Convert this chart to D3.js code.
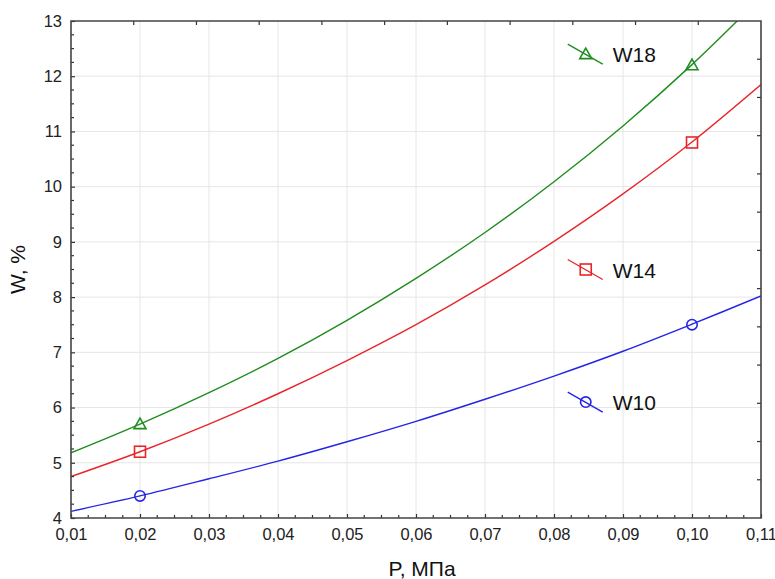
<!DOCTYPE html>
<html lang="ru">
<head>
<meta charset="UTF-8">
<title>W vs P</title>
<script src="https://d3js.org/d3.v7.min.js"></script>
<style>
  body { margin: 0; background: #fff; font-family: 'Liberation Sans', Arial, sans-serif; }
  svg text { font-family: 'Liberation Sans', Arial, sans-serif; }
  .tick text { font-size: 16.5px; fill: #222; }
</style>
</head>
<body>
<svg width="775" height="579"></svg>
<script>
// P, MPa sample positions for the fitted curves
const pValues = [0.01, 0.02, 0.03, 0.04, 0.05, 0.06, 0.07, 0.08, 0.09, 0.10, 0.11];
// curve values
const w10Curve = [4.12, 4.40, 4.71, 5.03, 5.38, 5.75, 6.15, 6.57, 7.02, 7.51, 8.02];
const w14Curve = [4.75, 5.20, 5.70, 6.25, 6.85, 7.50, 8.22, 9.01, 9.87, 10.81, 11.85];
const w18Curve = [5.18, 5.70, 6.27, 6.89, 7.58, 8.34, 9.17, 10.09, 11.10, 12.21, 13.43];
// measured points
const pointP = [0.02, 0.10];
const w10Points = [4.4, 7.5];
const w14Points = [5.2, 10.8];
const w18Points = [5.7, 12.2];
const xTicks = [0.01, 0.02, 0.03, 0.04, 0.05, 0.06, 0.07, 0.08, 0.09, 0.10, 0.11];
const yTicks = [4, 5, 6, 7, 8, 9, 10, 11, 12, 13];
const seriesNames = ["W18", "W14", "W10"];
const legendAt = [[0.0846, 12.4], [0.0846, 8.5], [0.0846, 6.1]];

const svg = d3.select("svg");
const pLeft = 71, pRight = 761, pTop = 21, pBottom = 518;
const x = d3.scaleLinear().domain([0.01, 0.11]).range([pLeft, pRight]);
const y = d3.scaleLinear().domain([4, 13]).range([pBottom, pTop]);

const series = [
  { name: "W18", curve: w18Curve, pts: w18Points, color: "#1f8c1f", marker: "tri" },
  { name: "W14", curve: w14Curve, pts: w14Points, color: "#e8262a", marker: "sq" },
  { name: "W10", curve: w10Curve, pts: w10Points, color: "#2424e6", marker: "circ" }
];

// grid
svg.append("g").selectAll("line").data(xTicks.slice(1, -1)).join("line")
  .attr("x1", d => x(d)).attr("x2", d => x(d)).attr("y1", pTop).attr("y2", pBottom)
  .attr("stroke", "#e6e6e6").attr("stroke-width", 1);
svg.append("g").selectAll("line").data(yTicks.slice(1, -1)).join("line")
  .attr("y1", d => y(d)).attr("y2", d => y(d)).attr("x1", pLeft).attr("x2", pRight)
  .attr("stroke", "#e6e6e6").attr("stroke-width", 1);

// clip for curves
svg.append("clipPath").attr("id", "plot").append("rect")
  .attr("x", pLeft).attr("y", pTop).attr("width", pRight - pLeft).attr("height", pBottom - pTop);

const line = d3.line().x(d => x(d[0])).y(d => y(d[1])).curve(d3.curveCatmullRom);

function drawMarker(g, kind, cx, cy, color) {
  if (kind === "tri") {
    g.append("path").attr("d", `M${cx},${cy - 6}L${cx + 6},${cy + 4.5}L${cx - 6},${cy + 4.5}Z`)
      .attr("fill", "none").attr("stroke", color).attr("stroke-width", 1.6);
  } else if (kind === "sq") {
    g.append("rect").attr("x", cx - 5.5).attr("y", cy - 5.5).attr("width", 11).attr("height", 11)
      .attr("fill", "none").attr("stroke", color).attr("stroke-width", 1.6);
  } else {
    g.append("circle").attr("cx", cx).attr("cy", cy).attr("r", 5.2)
      .attr("fill", "none").attr("stroke", color).attr("stroke-width", 1.6);
  }
}

const curves = svg.append("g").attr("clip-path", "url(#plot)");
series.forEach((s, i) => {
  curves.append("path").datum(pValues.map((p, j) => [p, s.curve[j]]))
    .attr("d", line).attr("fill", "none").attr("stroke", s.color).attr("stroke-width", 1.4);
  const g = svg.append("g");
  pointP.forEach((p, j) => drawMarker(g, s.marker, x(p), y(s.pts[j]), s.color));

  // legend entry
  const lx = x(legendAt[i][0]), ly = y(legendAt[i][1]);
  g.append("line").attr("x1", lx - 18).attr("y1", ly - 10).attr("x2", lx + 17).attr("y2", ly + 10)
    .attr("stroke", s.color).attr("stroke-width", 1.4);
  drawMarker(g, s.marker, lx, ly, s.color);
  g.append("text").attr("x", lx + 27).attr("y", ly + 8)
    .attr("font-size", 21).attr("fill", "#111").text(seriesNames[i]);
});

// axes
const fmt = d => d3.format(".2f")(d).replace(".", ",");
const xAxis = svg.append("g").attr("transform", `translate(0,${pBottom})`)
  .call(d3.axisBottom(x).tickValues(xTicks).tickFormat(fmt).tickSize(-4).tickPadding(10));
const yAxis = svg.append("g").attr("transform", `translate(${pLeft},0)`)
  .call(d3.axisLeft(y).tickValues(yTicks).tickFormat(d3.format("d")).tickSize(-4).tickPadding(9));
[xAxis, yAxis].forEach(a => {
  a.select(".domain").remove();
  a.selectAll(".tick line").attr("stroke", "#333").attr("stroke-width", 1.2);
});

// minor ticks
const minorX = d3.range(0.0125, 0.11, 0.0025).filter(v => Math.abs(v * 100 - Math.round(v * 100)) > 1e-6);
svg.append("g").selectAll("line").data(minorX).join("line")
  .attr("x1", d => x(d)).attr("x2", d => x(d)).attr("y1", pBottom).attr("y2", pBottom - 3)
  .attr("stroke", "#333").attr("stroke-width", 1.2);
const minorY = d3.range(4.25, 13, 0.25).filter(v => Math.abs(v - Math.round(v)) > 1e-6);
svg.append("g").selectAll("line").data(minorY).join("line")
  .attr("y1", d => y(d)).attr("y2", d => y(d)).attr("x1", pLeft).attr("x2", pLeft + 3)
  .attr("stroke", "#333").attr("stroke-width", 1.2);

// secondary ticks on top and right frame
svg.append("g").selectAll("line").data(d3.range(1, 11)).join("line")
  .attr("x1", d => pLeft + d * (pRight - pLeft) / 11).attr("x2", d => pLeft + d * (pRight - pLeft) / 11)
  .attr("y1", pTop).attr("y2", pTop + 4).attr("stroke", "#333").attr("stroke-width", 1.2);
svg.append("g").selectAll("line").data(d3.range(1, 13)).join("line")
  .attr("y1", d => pTop + d * (pBottom - pTop) / 13).attr("y2", d => pTop + d * (pBottom - pTop) / 13)
  .attr("x1", pRight).attr("x2", pRight - 4).attr("stroke", "#333").attr("stroke-width", 1.2);

// frame
svg.append("path").attr("d", `M${pLeft},${pTop}H${pRight}V${pBottom}H${pLeft}Z`)
  .attr("fill", "none").attr("stroke", "#444").attr("stroke-width", 1.6);

// axis titles
svg.append("text").attr("x", 422).attr("y", 576).attr("text-anchor", "middle")
  .attr("font-size", 21).attr("fill", "#111").text("P, МПа");
svg.append("text").attr("transform", `translate(25,${(pTop + pBottom) / 2}) rotate(-90)`)
  .attr("text-anchor", "middle").attr("font-size", 21).attr("fill", "#111").text("W, %");
</script>
</body>
</html>
